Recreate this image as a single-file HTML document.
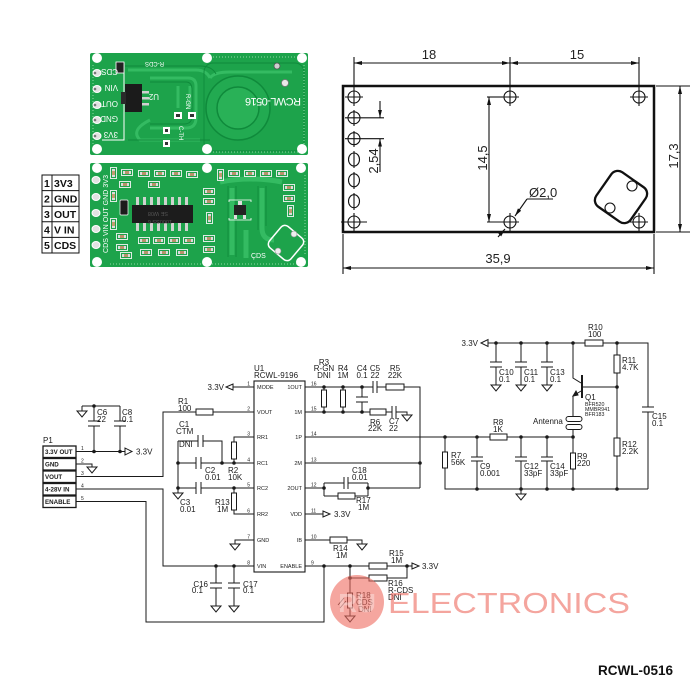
<!DOCTYPE html>
<html><head><meta charset="utf-8">
<style>
html,body{margin:0;padding:0;background:#fff;}
svg{display:block;}
text{font-family:"Liberation Sans",Arial,sans-serif;}
</style></head><body>
<svg width="700" height="700" viewBox="0 0 700 700" xmlns="http://www.w3.org/2000/svg">
<defs>
<marker id="ar" viewBox="0 0 8 4" refX="8" refY="2" markerWidth="8" markerHeight="4" markerUnits="userSpaceOnUse" orient="auto-start-reverse"><path d="M0,0 L8,2 L0,4 z" fill="#111"/></marker>
<symbol id="sh" viewBox="0 0 12 7" width="12" height="7">
<rect x="0.5" y="0.5" width="11" height="6" fill="none" stroke="#f4f4f4" stroke-width="0.9"/>
<rect x="2" y="2" width="8" height="3" fill="#b9926a"/>
<rect x="2" y="2" width="2" height="3" fill="#dcdcdc"/><rect x="8" y="2" width="2" height="3" fill="#dcdcdc"/>
</symbol>
<symbol id="sv" viewBox="0 0 7 12" width="7" height="12">
<rect x="0.5" y="0.5" width="6" height="11" fill="none" stroke="#f4f4f4" stroke-width="0.9"/>
<rect x="2" y="2" width="3" height="8" fill="#c49c70"/>
<rect x="2" y="2" width="3" height="2" fill="#dcdcdc"/><rect x="2" y="8" width="3" height="2" fill="#dcdcdc"/>
</symbol>
</defs>

<!-- ===== PIN TABLE ===== -->
<g stroke="#111" stroke-width="1" fill="none">
<rect x="42" y="175" width="37" height="78"/>
<line x1="52" y1="175" x2="52" y2="253"/>
<line x1="42" y1="190.6" x2="79" y2="190.6"/>
<line x1="42" y1="206.2" x2="79" y2="206.2"/>
<line x1="42" y1="221.8" x2="79" y2="221.8"/>
<line x1="42" y1="237.4" x2="79" y2="237.4"/>
</g>
<g font-size="10.5" font-weight="bold" fill="#111">
<text x="44" y="187">1</text><text x="54" y="187">3V3</text>
<text x="44" y="202.5">2</text><text x="54" y="202.5">GND</text>
<text x="44" y="218">3</text><text x="54" y="218">OUT</text>
<text x="44" y="233.5">4</text><text x="54" y="233.5">V IN</text>
<text x="44" y="249">5</text><text x="54" y="249">CDS</text>
</g>

<!-- ===== TOP PCB ===== -->
<g>
<rect x="90" y="53" width="218" height="102" rx="2" fill="#1da34b"/>
<g fill="none" stroke="#34bb62" stroke-width="3">
<path d="M128,70 H196 Q206,70 210,78"/>
<path d="M150,78 H188 Q196,78 196,86 V118 Q196,128 186,128 H150"/>
<path d="M150,120 Q130,130 140,140 H200"/>
<path d="M178,86 V108"/><path d="M190,86 V108"/>
<path d="M210,78 Q214,72 230,72 H292"/>
</g>
<g fill="none" stroke="#0f8a3b" stroke-width="0.9">
<rect x="204" y="63" width="100" height="88" rx="9"/>
<path d="M125,66 H200 Q212,66 216,74"/>
<path d="M150,82 H186 Q192,82 192,90 V116 Q192,124 184,124 H150"/>
<path d="M128,140 H210"/>
</g>
<circle cx="238" cy="108" r="32" fill="#22aa51" stroke="#0f8a3b" stroke-width="1.5"/>
<circle cx="238" cy="108" r="21" fill="#29b157" stroke="#0f8a3b" stroke-width="1.5"/>
<g stroke="#8fd9a5" stroke-width="1" stroke-dasharray="1 2">
<line x1="210" y1="57" x2="300" y2="57"/><line x1="210" y1="152" x2="300" y2="152"/>
<line x1="304" y1="65" x2="304" y2="145"/><line x1="93" y1="65" x2="93" y2="145"/>
</g>
<g fill="#fff">
<circle cx="97" cy="58" r="5"/><circle cx="207" cy="58" r="5"/><circle cx="302" cy="58" r="5"/>
<circle cx="97" cy="149" r="5"/><circle cx="207" cy="149" r="5"/><circle cx="302" cy="149" r="5"/>
<circle cx="285" cy="83" r="3.5" fill="#e8e8e8" stroke="#777" stroke-width="0.8"/>
<circle cx="277" cy="66" r="3" fill="#cfcfcf" stroke="#555" stroke-width="0.8"/>
</g>
<g fill="#e2e2e2" stroke="#fff" stroke-width="1">
<ellipse cx="97" cy="73" rx="4" ry="3.5"/><ellipse cx="97" cy="89" rx="4" ry="3.5"/>
<ellipse cx="97" cy="105" rx="4" ry="3.5"/><ellipse cx="97" cy="120" rx="4" ry="3.5"/>
<ellipse cx="97" cy="136" rx="4" ry="3.5"/>
</g>
<g fill="#777"><circle cx="95" cy="73" r="1.3"/><circle cx="95" cy="89" r="1.3"/><circle cx="95" cy="105" r="1.3"/><circle cx="95" cy="120" r="1.3"/><circle cx="95" cy="136" r="1.3"/></g>
<polyline points="116,63 124,63 124,140 102,140" fill="none" stroke="#fff" stroke-width="1"/>
<rect x="116" y="62" width="8" height="11" fill="#222" stroke="#fff" stroke-width="0.8"/>
<rect x="125" y="84" width="17" height="28" fill="#1b1b1b"/>
<rect x="121" y="92" width="5" height="12" fill="#2a2a2a"/>
<g fill="#d0d0d0"><rect x="142" y="91" width="7" height="2.5"/><rect x="142" y="97" width="7" height="2.5"/><rect x="142" y="103" width="7" height="2.5"/></g>
<g fill="#fff" font-size="8">
<text transform="translate(118,69) rotate(180)">CDS</text>
<text transform="translate(118,85) rotate(180)">VIN</text>
<text transform="translate(118,101) rotate(180)">OUT</text>
<text transform="translate(118,116) rotate(180)">GND</text>
<text transform="translate(118,132) rotate(180)">3V3</text>
<text transform="translate(159,94) rotate(180)">U2</text>
<text transform="translate(164,62) rotate(180)" font-size="6">R-CDS</text>
<text transform="translate(301,98) rotate(180)" font-size="11" textLength="56">RCWL-0516</text>
<text transform="translate(186,94) rotate(90)" font-size="6">R-GN</text>
<text transform="translate(179,126) rotate(90)" font-size="6">C-TH</text>
</g>
<g fill="#fff"><rect x="174" y="112" width="8" height="7"/><rect x="188" y="112" width="8" height="7"/><rect x="163" y="127" width="7" height="7"/><rect x="163" y="140" width="7" height="7"/></g>
<g fill="#333"><rect x="176" y="114" width="4" height="3"/><rect x="190" y="114" width="4" height="3"/><rect x="165" y="129" width="3" height="3"/><rect x="165" y="142" width="3" height="3"/></g>
</g>

<!-- ===== BOTTOM PCB ===== -->
<g>
<rect x="90" y="163" width="218" height="104" rx="2" fill="#1da34b"/>
<g fill="none" stroke="#34bb62" stroke-width="5">
<path d="M232,188 V255"/>
<path d="M246,230 V258"/>
<path d="M262,188 V228 Q262,240 274,240"/>
<path d="M220,182 Q250,176 282,182"/>
</g>
<g fill="none" stroke="#0f8a3b" stroke-width="0.8">
<path d="M228,186 V257"/><path d="M236,186 V257"/><path d="M258,186 V230"/><path d="M266,186 V226"/>
</g>
<g stroke="#8fd9a5" stroke-width="1" stroke-dasharray="1 2">
<line x1="110" y1="264" x2="300" y2="264"/><line x1="305" y1="175" x2="305" y2="255"/>
</g>
<g fill="#fff">
<circle cx="97" cy="168" r="5"/><circle cx="207" cy="168" r="5"/><circle cx="301" cy="168" r="5"/>
<circle cx="97" cy="262" r="5"/><circle cx="207" cy="262" r="5"/><circle cx="301" cy="262" r="5"/>
</g>
<g fill="#e2e2e2" stroke="#fff" stroke-width="1">
<ellipse cx="96" cy="180" rx="4" ry="3.5"/><ellipse cx="96" cy="197" rx="4" ry="3.5"/>
<ellipse cx="96" cy="213" rx="4" ry="3.5"/><ellipse cx="96" cy="229" rx="4" ry="3.5"/>
<ellipse cx="96" cy="245" rx="4" ry="3.5"/>
</g>
<text transform="translate(108,253) rotate(-90)" fill="#fff" font-size="7" textLength="78">CDS VIN OUT GND 3V3</text>
<rect x="132" y="205" width="61" height="18" fill="#1c1c1c"/>
<g fill="#cfd3cf">
<rect x="136" y="197" width="3" height="8"/><rect x="143" y="197" width="3" height="8"/><rect x="150" y="197" width="3" height="8"/><rect x="157" y="197" width="3" height="8"/>
<rect x="164" y="197" width="3" height="8"/><rect x="171" y="197" width="3" height="8"/><rect x="178" y="197" width="3" height="8"/><rect x="185" y="197" width="3" height="8"/>
<rect x="136" y="223" width="3" height="8"/><rect x="143" y="223" width="3" height="8"/><rect x="150" y="223" width="3" height="8"/><rect x="157" y="223" width="3" height="8"/>
<rect x="164" y="223" width="3" height="8"/><rect x="171" y="223" width="3" height="8"/><rect x="178" y="223" width="3" height="8"/><rect x="185" y="223" width="3" height="8"/>
</g>
<g fill="#555" font-size="5.5"><text transform="translate(168,212) rotate(180)">SE W08</text><text transform="translate(172,220) rotate(180)">1000SS 6</text></g>
<rect x="234" y="205" width="12" height="10" fill="#222"/>
<g fill="#ddd"><rect x="238" y="201" width="4" height="4"/><rect x="234" y="215" width="3" height="4"/><rect x="243" y="215" width="3" height="4"/></g>
<path d="M229,202 V200 H251 V202 M229,218 V220 H251 V218" fill="none" stroke="#fff" stroke-width="0.8"/>
<rect x="120" y="200" width="8" height="15" rx="1" fill="#1c1c1c" stroke="#fff" stroke-width="0.7"/>
<g>
<use href="#sv" x="110" y="167"/>
<use href="#sh" x="121" y="169"/><use href="#sh" x="138" y="170"/><use href="#sh" x="154" y="170"/><use href="#sh" x="170" y="170"/><use href="#sh" x="186" y="171"/>
<use href="#sh" x="119" y="181"/><use href="#sh" x="148" y="181"/>
<use href="#sv" x="217" y="169"/><use href="#sh" x="228" y="170"/><use href="#sh" x="244" y="170"/><use href="#sh" x="260" y="170"/><use href="#sh" x="276" y="170"/>
<use href="#sh" x="283" y="184"/><use href="#sh" x="283" y="195"/><use href="#sv" x="287" y="205"/>
<use href="#sh" x="203" y="188"/><use href="#sh" x="203" y="198"/><use href="#sv" x="206" y="212"/><use href="#sh" x="203" y="235"/><use href="#sh" x="203" y="246"/>
<use href="#sv" x="110" y="190"/><use href="#sv" x="110" y="218"/><use href="#sh" x="116" y="233"/><use href="#sh" x="116" y="244"/>
<use href="#sh" x="138" y="237"/><use href="#sh" x="153" y="237"/><use href="#sh" x="168" y="237"/><use href="#sh" x="183" y="237"/>
<use href="#sh" x="140" y="249"/><use href="#sh" x="158" y="249"/><use href="#sh" x="176" y="249"/><use href="#sh" x="120" y="252"/>
</g>
<g transform="translate(286,243) rotate(40)"><rect x="-14" y="-14" width="28" height="28" rx="5" fill="none" stroke="#fff" stroke-width="1.5"/></g>
<circle cx="294" cy="234" r="3" fill="#eee" stroke="#999" stroke-width="0.6"/>
<circle cx="278" cy="251" r="3" fill="#eee" stroke="#999" stroke-width="0.6"/>
<text x="251" y="258" fill="#fff" font-size="7">ÇDS</text>
</g>

<!-- ===== DIMENSION DRAWING ===== -->
<g stroke="#111" fill="none">
<rect x="343" y="86" width="311" height="146" stroke-width="2.5"/>
<g stroke-width="1.1">
<!-- holes -->
<circle cx="354" cy="97" r="6"/><line x1="345" y1="97" x2="363" y2="97"/><line x1="354" y1="57" x2="354" y2="106"/>
<circle cx="354" cy="117.8" r="6"/><line x1="345" y1="117.8" x2="384" y2="117.8"/><line x1="354" y1="110" x2="354" y2="126"/>
<circle cx="354" cy="138.7" r="6"/><line x1="345" y1="138.7" x2="384" y2="138.7"/><line x1="354" y1="131" x2="354" y2="147"/>
<ellipse cx="354" cy="159.5" rx="5.5" ry="6.5"/><line x1="354" y1="151" x2="354" y2="168"/>
<ellipse cx="354" cy="180.3" rx="5.5" ry="6.5"/><line x1="354" y1="172" x2="354" y2="189"/>
<ellipse cx="354" cy="201.2" rx="5.5" ry="6.5"/><line x1="354" y1="193" x2="354" y2="210"/>
<circle cx="354" cy="222" r="6"/><line x1="341" y1="222" x2="367" y2="222"/><line x1="354" y1="213" x2="354" y2="231"/>
<circle cx="510" cy="97" r="6"/><line x1="501" y1="97" x2="519" y2="97"/><line x1="510" y1="57" x2="510" y2="106"/>
<circle cx="510" cy="222" r="6"/><line x1="487" y1="222" x2="519" y2="222"/><line x1="510" y1="213" x2="510" y2="231"/>
<circle cx="639" cy="97" r="6"/><line x1="630" y1="97" x2="648" y2="97"/><line x1="639" y1="57" x2="639" y2="106"/>
<circle cx="639" cy="222" r="6"/><line x1="630" y1="222" x2="648" y2="222"/><line x1="639" y1="213" x2="639" y2="231"/>
<!-- dims -->
<line x1="354" y1="63" x2="510" y2="63" marker-start="url(#ar)" marker-end="url(#ar)"/>
<line x1="510" y1="63" x2="639" y2="63" marker-start="url(#ar)" marker-end="url(#ar)"/>
<line x1="656" y1="86" x2="690" y2="86"/><line x1="656" y1="232" x2="690" y2="232"/>
<line x1="680" y1="86" x2="680" y2="232" marker-start="url(#ar)" marker-end="url(#ar)"/>
<line x1="343" y1="234" x2="343" y2="274"/><line x1="654" y1="234" x2="654" y2="274"/>
<line x1="343" y1="268" x2="654" y2="268" marker-start="url(#ar)" marker-end="url(#ar)"/>
<line x1="487" y1="97" x2="503" y2="97"/>
<line x1="489" y1="97" x2="489" y2="222" marker-start="url(#ar)" marker-end="url(#ar)"/>
<line x1="380" y1="101" x2="380" y2="117.8" marker-end="url(#ar)"/>
<line x1="380" y1="172" x2="380" y2="138.7" marker-end="url(#ar)"/>
<line x1="553" y1="199" x2="527" y2="199"/>
<line x1="527" y1="199" x2="515" y2="216" marker-end="url(#ar)"/>
<line x1="498" y1="237" x2="505" y2="229" marker-end="url(#ar)"/>
</g>
<g transform="translate(621,197) rotate(35)"><rect x="-21" y="-21" width="42" height="42" rx="8" stroke-width="2.3"/></g>
<circle cx="632" cy="186" r="5" stroke-width="1.1"/>
<circle cx="610" cy="208" r="5" stroke-width="1.1"/>
</g>
<g fill="#222" font-size="13">
<text x="429" y="59" text-anchor="middle">18</text>
<text x="577" y="59" text-anchor="middle">15</text>
<text x="498" y="263" text-anchor="middle">35,9</text>
<text transform="translate(678,156) rotate(-90)" text-anchor="middle">17,3</text>
<text transform="translate(487,158) rotate(-90)" text-anchor="middle">14,5</text>
<text transform="translate(378,161) rotate(-90)" text-anchor="middle">2,54</text>
<text x="529" y="197">Ø2,0</text>
</g>

<!-- ===== SCHEMATIC ===== -->
<g stroke="#1a1a1a" stroke-width="1" fill="none">
<!-- P1 -->
<rect x="43" y="446" width="33" height="11.5" stroke-width="1.3"/>
<rect x="43" y="458.5" width="33" height="11.5" stroke-width="1.3"/>
<rect x="43" y="471" width="33" height="11.5" stroke-width="1.3"/>
<rect x="43" y="483.5" width="33" height="11.5" stroke-width="1.3"/>
<rect x="43" y="496" width="33" height="11.5" stroke-width="1.3"/>
<path d="M76,451.5 H125"/>
<polygon points="125,448 125,455 132,451.5"/>
<path d="M94,406 V421 M88,421 H100 M88,426 H100 M94,426 V451.5"/>
<path d="M120,406 V421 M114,421 H126 M114,426 H126 M120,426 V451.5"/>
<path d="M82,406 H120 M82,406 V411"/>
<path d="M77,411 H87 L82,417 Z"/>
<path d="M76,464 H92 V467"/>
<path d="M87,467 H97 L92,473 Z"/>
<path d="M76,476.5 H163 V412 H196"/>
<rect x="196" y="409" width="17" height="6" fill="#fff"/>
<path d="M213,412 H254"/>
<path d="M76,489 H163 V566 H254"/>
<path d="M76,501.5 H146 V622 H324 V566"/>
<!-- C1 C2 C3 -->
<path d="M178,441 H198 M198,435 V447 M203,435 V447 M203,441 H222 V463"/>
<path d="M178,441 V493"/>
<path d="M173,493 H183 L178,499 Z"/>
<path d="M178,463 H196 M196,457 V469 M201,457 V469 M201,463 H254"/>
<path d="M178,488 H196 M196,482 V494 M201,482 V494 M201,488 H254"/>
<path d="M254,437 H234 V442"/>
<rect x="231.5" y="442" width="5" height="17" fill="#fff"/>
<path d="M234,459 V463"/>
<path d="M234,488 V493"/>
<rect x="231.5" y="493" width="5" height="17" fill="#fff"/>
<path d="M234,510 V514 H254"/>
<path d="M254,540 H235 V544"/>
<path d="M230,544 H240 L235,550 Z"/>
<path d="M254,387 H233"/>
<polygon points="233,384 233,390 226,387"/>
<path d="M216,566 V583 M210,583 H222 M210,588 H222 M216,588 V606"/>
<path d="M211,606 H221 L216,612 Z"/>
<path d="M234,566 V583 M228,583 H240 M228,588 H240 M234,588 V606"/>
<path d="M229,606 H239 L234,612 Z"/>
<!-- U1 -->
<rect x="254" y="381" width="51" height="191" stroke-width="1.1"/>
<!-- right of U1 -->
<path d="M305,387 H373 M373,381 V393 M377,381 V393 M377,387 H386"/>
<rect x="386" y="384" width="18" height="6" fill="#fff"/>
<path d="M404,387 H420 V488"/>
<path d="M324,387 V390 M324,407 V412"/>
<rect x="321.5" y="390" width="5" height="17" fill="#fff"/>
<path d="M343,387 V390 M343,407 V412"/>
<rect x="340.5" y="390" width="5" height="17" fill="#fff"/>
<path d="M362,387 V397 M356,397 H368 M356,402 H368 M362,402 V412"/>
<path d="M305,412 H370"/>
<rect x="370" y="409" width="16" height="6" fill="#fff"/>
<path d="M386,412 H392 M392,406 V418 M396,406 V418 M396,412 H407 V415"/>
<path d="M402,415 H412 L407,421 Z"/>
<path d="M305,437 H490"/>
<rect x="490" y="434" width="17" height="6" fill="#fff"/>
<path d="M507,437 H573"/>
<path d="M305,463 H420"/>
<path d="M305,488 H324 M324,483 V496 M324,483 H344 M344,477 V489 M348,477 V489 M348,483 H368 M324,496 H338"/>
<rect x="338" y="493" width="17" height="6" fill="#fff"/>
<path d="M355,496 H368 M368,483 V496 M368,488 H420"/>
<path d="M305,514 H323"/>
<polygon points="323,511 323,517 330,514"/>
<path d="M305,540 H330"/>
<rect x="330" y="537" width="17" height="6" fill="#fff"/>
<path d="M347,540 H362 V544"/>
<path d="M357,544 H367 L362,550 Z"/>
<path d="M305,566 H369"/>
<rect x="369" y="563" width="18" height="6" fill="#fff"/>
<path d="M387,566 H412"/>
<polygon points="412,563 412,569 419,566"/>
<path d="M407,566 V578 H387"/>
<rect x="369" y="575" width="18" height="6" fill="#fff"/>
<path d="M369,578 H350 M350,566 V593"/>
<rect x="347.5" y="593" width="5" height="15" fill="#fff"/>
<path d="M350,608 V616"/>
<path d="M345,616 H355 L350,622 Z"/>
<path d="M338,605 L344,598 M340,608 L346,601" stroke-width="0.8"/>
<!-- right block -->
<polygon points="481,343 488,339.5 488,346.5"/>
<path d="M488,343 H585"/>
<rect x="585" y="340" width="18" height="6" fill="#fff"/>
<path d="M603,343 H648 V407 M642,407 H654 M642,412 H654 M648,412 V489"/>
<path d="M496,343 V362 M490,362 H502 M490,367 H502 M496,367 V385"/>
<path d="M491,385 H501 L496,391 Z"/>
<path d="M521,343 V362 M515,362 H527 M515,367 H527 M521,367 V385"/>
<path d="M516,385 H526 L521,391 Z"/>
<path d="M547,343 V362 M541,362 H553 M541,367 H553 M547,367 V385"/>
<path d="M542,385 H552 L547,391 Z"/>
<path d="M617,343 V355 M617,373 V438 M617,456 V489"/>
<rect x="614" y="355" width="6" height="18" fill="#fff"/>
<rect x="614" y="438" width="6" height="18" fill="#fff"/>
<path d="M617,387 H583"/>
<path d="M582,375 V398" stroke-width="2"/>
<path d="M573,343 V378 L581,383"/>
<path d="M581,391 L573,396 V416"/>
<path d="M573,396 L578,395 L576,391 Z" fill="#1a1a1a"/>
<rect x="566" y="416.5" width="16" height="5" rx="2.5" fill="#fff"/>
<rect x="566" y="424.5" width="16" height="5" rx="2.5" fill="#fff"/>
<path d="M573,429.5 V437"/>
<path d="M445,437 V452 M445,468 V489 H648"/>
<rect x="442.5" y="452" width="5" height="16" fill="#fff"/>
<path d="M477,437 V457 M471,457 H483 M471,461 H483 M477,461 V489"/>
<path d="M521,437 V457 M515,457 H527 M515,461 H527 M521,461 V489"/>
<path d="M547,437 V457 M541,457 H553 M541,461 H553 M547,461 V489"/>
<path d="M573,437 V453 M573,469 V489"/>
<rect x="570.5" y="453" width="5" height="16" fill="#fff"/>
<path d="M521,489 V494"/>
<path d="M516,494 H526 L521,500 Z"/>
</g>
<!-- junctions -->
<g fill="#1a1a1a">
<circle cx="94" cy="451.5" r="1.8"/><circle cx="120" cy="451.5" r="1.8"/><circle cx="94" cy="406" r="1.8"/>
<circle cx="222" cy="463" r="1.8"/><circle cx="178" cy="463" r="1.8"/><circle cx="178" cy="488" r="1.8"/>
<circle cx="234" cy="463" r="1.8"/><circle cx="234" cy="488" r="1.8"/>
<circle cx="216" cy="566" r="1.8"/><circle cx="234" cy="566" r="1.8"/>
<circle cx="324" cy="387" r="1.8"/><circle cx="343" cy="387" r="1.8"/><circle cx="362" cy="387" r="1.8"/>
<circle cx="324" cy="412" r="1.8"/><circle cx="343" cy="412" r="1.8"/><circle cx="362" cy="412" r="1.8"/>
<circle cx="420" cy="463" r="1.8"/><circle cx="324" cy="488" r="1.8"/><circle cx="368" cy="488" r="1.8"/>
<circle cx="324" cy="566" r="1.8"/><circle cx="350" cy="566" r="1.8"/><circle cx="350" cy="578" r="1.8"/><circle cx="407" cy="566" r="1.8"/>
<circle cx="496" cy="343" r="1.8"/><circle cx="521" cy="343" r="1.8"/><circle cx="547" cy="343" r="1.8"/>
<circle cx="573" cy="343" r="1.8"/><circle cx="617" cy="343" r="1.8"/><circle cx="617" cy="387" r="1.8"/>
<circle cx="445" cy="437" r="1.8"/><circle cx="477" cy="437" r="1.8"/><circle cx="521" cy="437" r="1.8"/>
<circle cx="547" cy="437" r="1.8"/><circle cx="573" cy="437" r="1.8"/>
<circle cx="477" cy="489" r="1.8"/><circle cx="521" cy="489" r="1.8"/><circle cx="547" cy="489" r="1.8"/>
<circle cx="573" cy="489" r="1.8"/><circle cx="617" cy="489" r="1.8"/>
</g>
<!-- P1 labels -->
<g font-size="6.2" font-weight="bold" fill="#1a1a1a">
<text x="45" y="454">3.3V OUT</text><text x="45" y="466.5">GND</text><text x="45" y="479">VOUT</text>
<text x="45" y="491.5">4-28V IN</text><text x="45" y="504">ENABLE</text>
</g>
<!-- pin numbers -->
<g font-size="5" fill="#1a1a1a">
<text x="81" y="450">1</text><text x="81" y="462.5">2</text><text x="81" y="475">3</text><text x="81" y="487.5">4</text><text x="81" y="500">5</text>
<g text-anchor="end">
<text x="250" y="385.5">1</text><text x="250" y="410.5">2</text><text x="250" y="435.5">3</text><text x="250" y="461.5">4</text>
<text x="250" y="486.5">5</text><text x="250" y="512.5">6</text><text x="250" y="538.5">7</text><text x="250" y="564.5">8</text>
</g>
<text x="311" y="385.5">16</text><text x="311" y="410.5">15</text><text x="311" y="435.5">14</text><text x="311" y="461.5">13</text>
<text x="311" y="486.5">12</text><text x="311" y="512.5">11</text><text x="311" y="538.5">10</text><text x="311" y="564.5">9</text>
</g>
<!-- U1 pin names -->
<g font-size="5.5" fill="#1a1a1a">
<text x="257" y="389">MODE</text><text x="257" y="414">VOUT</text><text x="257" y="439">RR1</text><text x="257" y="465">RC1</text>
<text x="257" y="490">RC2</text><text x="257" y="516">RR2</text><text x="257" y="542">GND</text><text x="257" y="568">VIN</text>
<g text-anchor="end">
<text x="302" y="389">1OUT</text><text x="302" y="414">1M</text><text x="302" y="439">1P</text><text x="302" y="465">2M</text>
<text x="302" y="490">2OUT</text><text x="302" y="516">VDD</text><text x="302" y="542">IB</text><text x="302" y="568">ENABLE</text>
</g>
</g>
<!-- schematic labels -->
<g font-size="8" fill="#1a1a1a">
<text x="43" y="443">P1</text>
<text x="136" y="454.5">3.3V</text>
<text x="97" y="415">C6</text><text x="97" y="422">22</text>
<text x="122" y="415">C8</text><text x="122" y="422">0.1</text>
<text x="178" y="404">R1</text><text x="178" y="411">100</text>
<text x="179" y="427">C1</text><text x="176" y="434">CTM</text><text x="179" y="447">DNI</text>
<text x="205" y="473">C2</text><text x="205" y="480">0.01</text>
<text x="228" y="473">R2</text><text x="228" y="480">10K</text>
<text x="180" y="505">C3</text><text x="180" y="512">0.01</text>
<text x="215" y="505">R13</text><text x="217" y="512">1M</text>
<text x="208" y="587" text-anchor="end">C16</text><text x="203" y="593" text-anchor="end">0.1</text>
<text x="243" y="587">C17</text><text x="243" y="593">0.1</text>
<text x="224" y="390" text-anchor="end">3.3V</text>
<text x="254" y="371">U1</text><text x="254" y="378">RCWL-9196</text>
<g text-anchor="middle">
<text x="324" y="365">R3</text><text x="324" y="371">R-GN</text><text x="324" y="378">DNI</text>
<text x="343" y="371">R4</text><text x="343" y="378">1M</text>
<text x="362" y="371">C4</text><text x="362" y="378">0.1</text>
<text x="375" y="371">C5</text><text x="375" y="378">22</text>
<text x="395" y="371">R5</text><text x="395" y="378">22K</text>
</g>
<text x="370" y="425">R6</text><text x="368" y="431">22K</text>
<text x="389" y="424">C7</text><text x="389" y="431">22</text>
<text x="352" y="473">C18</text><text x="352" y="480">0.01</text>
<text x="356" y="503">R17</text><text x="358" y="510">1M</text>
<text x="334" y="517">3.3V</text>
<text x="333" y="551">R14</text><text x="336" y="558">1M</text>
<text x="389" y="556">R15</text><text x="391" y="563">1M</text>
<text x="422" y="569">3.3V</text>
<text x="388" y="586">R16</text><text x="388" y="593">R-CDS</text><text x="388" y="600">DNI</text>
<text x="356" y="598">R18</text><text x="356" y="605">CDS</text><text x="358" y="612">DNI</text>
<text x="478" y="346" text-anchor="end">3.3V</text>
<text x="588" y="330">R10</text><text x="588" y="337">100</text>
<text x="499" y="375">C10</text><text x="499" y="382">0.1</text>
<text x="524" y="375">C11</text><text x="524" y="382">0.1</text>
<text x="550" y="375">C13</text><text x="550" y="382">0.1</text>
<text x="622" y="363">R11</text><text x="622" y="370">4.7K</text>
<text x="585" y="400">Q1</text>
<text x="533" y="424">Antenna</text>
<text x="652" y="419">C15</text><text x="652" y="426">0.1</text>
<text x="622" y="447">R12</text><text x="622" y="454">2.2K</text>
<text x="493" y="425">R8</text><text x="493" y="432">1K</text>
<text x="451" y="458">R7</text><text x="451" y="465">56K</text>
<text x="480" y="469">C9</text><text x="480" y="476">0.001</text>
<text x="524" y="469">C12</text><text x="524" y="476">33pF</text>
<text x="550" y="469">C14</text><text x="550" y="476">33pF</text>
<text x="577" y="459">R9</text><text x="577" y="466">220</text>
</g>
<g font-size="5.3" fill="#1a1a1a">
<text x="585" y="406">BFR520</text><text x="585" y="411">MMBR941</text><text x="585" y="416">BFR183</text>
</g>

<!-- watermark -->
<g opacity="0.6">
<circle cx="357" cy="602" r="27" fill="#ee6a5f"/>
<text x="388" y="613" font-size="29" fill="#ee6a5f" textLength="242" lengthAdjust="spacingAndGlyphs">ELECTRONICS</text>
</g>
<text x="357" y="612" font-size="26" font-weight="bold" fill="#fff" opacity="0.35" text-anchor="middle">RU</text>

<text x="598" y="675" font-size="13.5" font-weight="bold" fill="#111">RCWL-0516</text>
</svg>
</body></html>
